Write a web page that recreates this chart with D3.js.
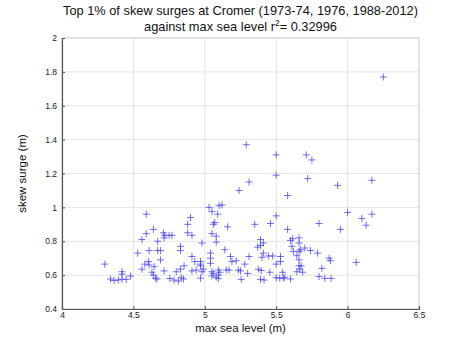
<!DOCTYPE html>
<html>
<head>
<meta charset="utf-8">
<script src="https://d3js.org/d3.v7.min.js"></script>
<style>
    body { margin: 0; background: #ffffff; }
    text { font-family: "Liberation Sans", Arial, sans-serif; }
</style>
</head>
<body>
<svg id="chart" width="465" height="350"></svg>
<script>
let titleLines = ["Top 1% of skew surges at Cromer (1973-74, 1976, 1988-2012)", "against max sea level r", "= 0.32996"];
let xLabel = "max sea level (m)";
let yLabel = "skew surge (m)";
let xTicks = [4, 4.5, 5, 5.5, 6, 6.5];
let yTicks = [0.4, 0.6, 0.8, 1, 1.2, 1.4, 1.6, 1.8, 2];

// max sea level (m) for each surge
let seaLevel = [
    6.25, 5.29, 5.50, 5.71, 5.75, 5.50, 5.72, 5.31, 6.17, 5.24, 5.93, 5.58, 5.03, 5.10, 5.12,
    5.05, 5.09, 4.59, 4.90, 5.07, 5.06, 4.88, 5.16, 5.35, 5.46, 5.50, 5.58, 5.80, 5.95, 6.00,
    6.10, 6.13, 6.17, 4.64, 4.59, 4.56, 4.71, 4.72, 4.75, 4.77, 4.715, 4.67, 4.88, 4.91, 5.05,
    5.08, 5.08, 4.98, 4.83, 5.39, 5.41, 5.60, 5.615, 5.66, 5.66,
    4.53, 4.61, 4.67, 4.69, 4.83, 4.91, 5.04, 5.14, 5.04, 5.18, 5.31, 5.37, 5.41, 5.40, 5.445,
    5.475, 5.53, 5.61, 5.62, 5.645, 5.70, 5.74, 5.79, 5.66, 5.67, 5.87, 5.88, 6.06, 5.39,
    4.30, 4.42, 4.42, 4.56, 4.58, 4.605, 4.61, 4.645, 4.63, 4.64, 4.69, 4.715, 4.80, 4.83, 4.855,
    4.93, 4.91, 4.94, 4.97, 4.99, 4.97, 4.97, 4.98, 5.04, 5.05, 5.06, 5.095, 5.105, 5.095, 5.15,
    5.17, 5.19, 5.22, 5.235, 5.25, 5.28, 5.30, 5.375, 5.395, 5.455, 5.50, 5.53, 5.545, 5.645, 5.665,
    5.675, 5.66, 5.66, 5.685, 5.82,
    4.34, 4.365, 4.395, 4.42, 4.45, 4.48, 4.655, 4.665, 4.755, 4.785, 4.815, 4.835, 4.85, 4.97, 5.05,
    5.08, 5.095, 5.255, 5.39, 5.415, 5.50, 5.525, 5.55, 5.56, 5.60, 5.80, 5.84, 5.885
];

// skew surge (m), same order as seaLevel
let skewSurge = [
    1.77, 1.37, 1.31, 1.31, 1.28, 1.19, 1.17, 1.15, 1.16, 1.10, 1.13, 1.07, 1.00, 1.01, 1.015,
    0.975, 0.96, 0.96, 0.94, 0.91, 0.90, 0.90, 0.885, 0.90, 0.905, 0.95, 0.87, 0.905, 0.87, 0.97,
    0.935, 0.895, 0.96, 0.87, 0.845, 0.81, 0.85, 0.835, 0.835, 0.835, 0.82, 0.80, 0.85, 0.835, 0.845,
    0.83, 0.795, 0.79, 0.77, 0.81, 0.79, 0.805, 0.815, 0.82, 0.79,
    0.73, 0.745, 0.745, 0.745, 0.745, 0.71, 0.73, 0.75, 0.70, 0.71, 0.71, 0.765, 0.73, 0.705, 0.713,
    0.713, 0.71, 0.77, 0.74, 0.715, 0.76, 0.745, 0.73, 0.74, 0.75, 0.70, 0.685, 0.675, 0.775,
    0.665, 0.62, 0.605, 0.635, 0.665, 0.68, 0.66, 0.65, 0.617, 0.60, 0.69, 0.625, 0.62, 0.635, 0.655,
    0.68, 0.625, 0.63, 0.665, 0.635, 0.68, 0.655, 0.62, 0.67, 0.62, 0.61, 0.63, 0.617, 0.60, 0.63,
    0.63, 0.68, 0.685, 0.63, 0.625, 0.665, 0.61, 0.635, 0.627, 0.617, 0.665, 0.68, 0.617, 0.62, 0.635,
    0.655, 0.69, 0.655, 0.617, 0.64,
    0.577, 0.568, 0.572, 0.575, 0.575, 0.595, 0.582, 0.577, 0.58, 0.571, 0.565, 0.585, 0.577, 0.582, 0.595,
    0.587, 0.579, 0.575, 0.575, 0.571, 0.585, 0.582, 0.582, 0.587, 0.577, 0.592, 0.581, 0.581
];

let svg = d3.select("#chart");
let plotLeft = 62, plotRight = 419, plotTop = 38, plotBottom = 309;
let axisColor = "#555555";
let gridColor = "#e4e4e4";
let markColor = "#4444ee";

let x = d3.scaleLinear()
    .domain([4, 6.5])
    .range([plotLeft, plotRight]);
let y = d3.scaleLinear()
    .domain([0.4, 2])
    .range([plotBottom, plotTop]);

// grid lines
svg.append("g").selectAll("line")
    .data(xTicks.slice(1, -1))
    .enter()
    .append("line")
        .attr("x1", d => x(d))
        .attr("x2", d => x(d))
        .attr("y1", plotTop)
        .attr("y2", plotBottom)
        .style("stroke", gridColor)
        .style("stroke-width", 1);
svg.append("g").selectAll("line")
    .data(yTicks.slice(1, -1))
    .enter()
    .append("line")
        .attr("x1", plotLeft)
        .attr("x2", plotRight)
        .attr("y1", d => y(d))
        .attr("y2", d => y(d))
        .style("stroke", gridColor)
        .style("stroke-width", 1);

// box (top + right lighter, like matlab)
svg.append("rect")
    .attr("x", plotLeft)
    .attr("y", plotTop)
    .attr("width", plotRight - plotLeft)
    .attr("height", plotBottom - plotTop)
    .style("fill", "none")
    .style("stroke", "#c8c8c8")
    .style("stroke-width", 1);

// axes, ticks point inwards
let xAxis = svg.append("g")
    .attr("transform", "translate(0," + plotBottom + ")")
    .call(d3.axisBottom(x).tickValues(xTicks).tickSize(-3).tickPadding(4).tickFormat(d3.format("")));
let yAxis = svg.append("g")
    .attr("transform", "translate(" + plotLeft + ",0)")
    .call(d3.axisLeft(y).tickValues(yTicks).tickSize(-3).tickPadding(5).tickFormat(d3.format("")));

for (let a of [xAxis, yAxis]) {
    a.select(".domain").style("stroke", axisColor).style("stroke-width", 1.2);
    a.selectAll(".tick line").style("stroke", axisColor);
    a.selectAll(".tick text")
        .style("font-family", "Liberation Sans, Arial, sans-serif")
        .style("font-size", "8.5px")
        .style("fill", "#222222");
}
xAxis.selectAll(".tick text").attr("dy", "0.6em");

// points as + markers
let half = 3.5;
let points = svg.append("g").selectAll("g")
    .data(d3.range(seaLevel.length))
    .enter()
    .append("g")
        .attr("transform", i => "translate(" + x(seaLevel[i]) + "," + y(skewSurge[i]) + ")");
points.append("line")
    .attr("x1", -half).attr("x2", half).attr("y1", 0).attr("y2", 0)
    .style("stroke", markColor).style("stroke-width", 0.9).style("opacity", 0.85);
points.append("line")
    .attr("x1", 0).attr("x2", 0).attr("y1", -half).attr("y2", half)
    .style("stroke", markColor).style("stroke-width", 0.9).style("opacity", 0.85);

// titles
svg.append("text")
    .attr("x", (plotLeft + plotRight) / 2)
    .attr("y", 15)
    .attr("text-anchor", "middle")
    .style("font-size", "12.8px")
    .style("fill", "#111111")
    .text(titleLines[0]);
let t2 = svg.append("text")
    .attr("x", (plotLeft + plotRight) / 2)
    .attr("y", 31)
    .attr("text-anchor", "middle")
    .style("font-size", "12.8px")
    .style("fill", "#111111");
t2.append("tspan").text(titleLines[1]);
t2.append("tspan").attr("dy", -5).style("font-size", "8.5px").text("2");
t2.append("tspan").attr("dy", 5).text(titleLines[2]);

svg.append("text")
    .attr("x", (plotLeft + plotRight) / 2)
    .attr("y", 332)
    .attr("text-anchor", "middle")
    .style("font-size", "11.5px")
    .style("fill", "#111111")
    .text(xLabel);
svg.append("text")
    .attr("transform", "translate(26," + ((plotTop + plotBottom) / 2) + ") rotate(-90)")
    .attr("text-anchor", "middle")
    .style("font-size", "11.5px")
    .style("fill", "#111111")
    .text(yLabel);
</script>
</body>
</html>
